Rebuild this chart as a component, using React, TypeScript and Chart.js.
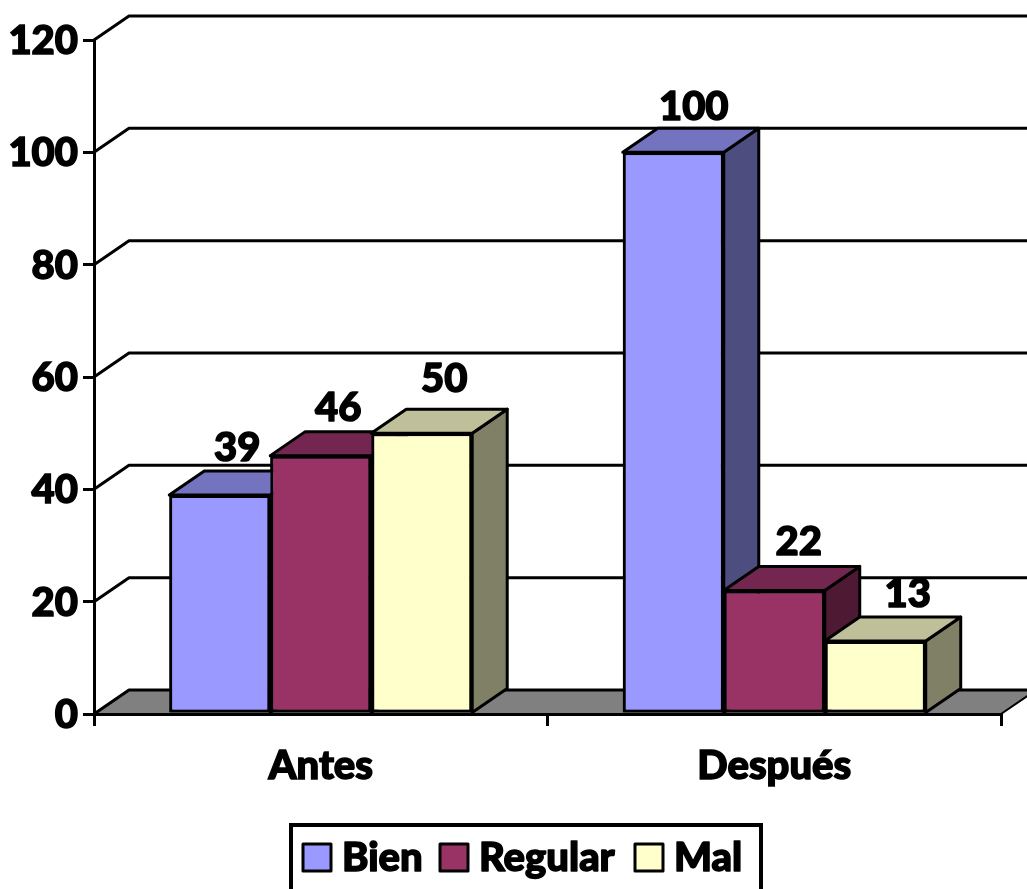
import React, { useEffect, useRef } from "react";
import { Chart, registerables } from "chart.js";

Chart.register(...registerables);

const categories = ["Antes", "Después"];
const seriesNames = ["Bien", "Regular", "Mal"];
const bien = [39, 100];
const regular = [46, 22];
const mal = [50, 13];
const frontColors = ["#9999FF", "#993366", "#FFFFCC"];
const topColors = ["#7373BF", "#732650", "#BFBF99"];
const sideColors = ["#4D4D80", "#4D1933", "#808066"];

const FAMILY = "Lato, Carlito, sans-serif";
const FONT = `900 40px ${FAMILY}`;
const DX = 35;
const DY = -24;
// fine placement of the value labels relative to the bar's top centre
const labelShift: Record<string, [number, number]> = {
  "0-0": [0, -23],
  "0-1": [3, -21],
  "1-0": [0, -24],
  "1-1": [7, -24],
  "2-0": [5, -30],
  "2-1": [15, -23],
};

function poly(ctx: CanvasRenderingContext2D, pts: number[][], fill: string, stroke = "#000", lw = 3) {
  ctx.beginPath();
  pts.forEach((p, i) => (i ? ctx.lineTo(p[0], p[1]) : ctx.moveTo(p[0], p[1])));
  ctx.closePath();
  ctx.fillStyle = fill;
  ctx.fill();
  ctx.lineJoin = "round";
  ctx.strokeStyle = stroke;
  ctx.lineWidth = lw;
  ctx.stroke();
}

function heavyText(ctx: CanvasRenderingContext2D, s: string, x: number, y: number, align: CanvasTextAlign = "center") {
  ctx.font = FONT;
  ctx.textAlign = align;
  ctx.textBaseline = "middle";
  ctx.fillStyle = "#000";
  ctx.strokeStyle = "#000";
  ctx.lineWidth = 1.5;
  ctx.lineJoin = "round";
  ctx.fillText(s, x, y);
  ctx.strokeText(s, x, y);
}

const walls3d = {
  id: "walls3d",
  beforeDatasetsDraw(chart: any) {
    const { ctx, chartArea: a, scales } = chart;
    const y = scales.y;
    ctx.save();
    const base = y.getPixelForValue(0);
    poly(
      ctx,
      [
        [a.left, base],
        [a.left + DX, base + DY],
        [a.right + DX, base + DY],
        [a.right, base],
      ],
      "#808080",
      "#000",
      2
    );
    ctx.strokeStyle = "#000";
    ctx.lineWidth = 3;
    y.ticks.forEach((t: any) => {
      const p = y.getPixelForValue(t.value);
      ctx.beginPath();
      ctx.moveTo(a.left, p);
      ctx.lineTo(a.left + DX, p + DY);
      ctx.lineTo(a.right + DX, p + DY);
      ctx.stroke();
    });
    ctx.restore();
  },
};

const bars3d = {
  id: "bars3d",
  afterDatasetsDraw(chart: any) {
    const { ctx } = chart;
    ctx.save();
    // Series are painted left to right so each front covers its left neighbour's side.
    chart.data.datasets.forEach((_: any, i: number) => {
      const meta = chart.getDatasetMeta(i);
      meta.data.forEach((bar: any) => {
        const x0 = bar.x - bar.width / 2;
        const x1 = bar.x + bar.width / 2;
        poly(
          ctx,
          [
            [x1, bar.y],
            [x1 + DX, bar.y + DY],
            [x1 + DX, bar.base + DY],
            [x1, bar.base],
          ],
          sideColors[i]
        );
        poly(
          ctx,
          [
            [x0, bar.y],
            [x0 + DX, bar.y + DY],
            [x1 + DX, bar.y + DY],
            [x1, bar.y],
          ],
          topColors[i]
        );
      });
      meta.controller.draw();
    });
    chart.data.datasets.forEach((ds: any, i: number) => {
      chart.getDatasetMeta(i).data.forEach((bar: any, j: number) => {
        const [sx, sy] = labelShift[`${i}-${j}`];
        heavyText(ctx, String(ds.data[j]), bar.x + DX / 2 + sx, bar.y + DY + sy);
      });
    });
    ctx.restore();
  },
};

const boxLegend = {
  id: "boxLegend",
  afterDraw(chart: any) {
    const { ctx } = chart;
    ctx.save();
    ctx.strokeStyle = "#000";
    ctx.lineWidth = 4;
    ctx.strokeRect(291, 825, 470, 80);
    const swatchX = [303, 440, 635];
    seriesNames.forEach((name, i) => {
      poly(ctx, [
        [swatchX[i], 844],
        [swatchX[i] + 28, 844],
        [swatchX[i] + 28, 871],
        [swatchX[i], 871],
      ], frontColors[i]);
      heavyText(ctx, name, swatchX[i] + 39, 858, "left");
    });
    ctx.restore();
  },
};

export default function App() {
  const ref = useRef<HTMLCanvasElement>(null);
  useEffect(() => {
    const tickFont = { family: FAMILY, size: 40, weight: "900" };
    const chart = new Chart(ref.current as HTMLCanvasElement, {
      type: "bar",
      data: {
        labels: categories,
        datasets: [bien, regular, mal].map((data, i) => ({
          label: seriesNames[i],
          data,
          backgroundColor: frontColors[i],
          borderColor: "#000",
          borderWidth: 3,
          borderSkipped: false,
          categoryPercentage: 0.668,
          barPercentage: 1,
        })),
      } as any,
      options: {
        responsive: false,
        animation: false,
        devicePixelRatio: 1,
        layout: { padding: { top: 40, right: 26, left: 0, bottom: 0 } },
        plugins: { legend: { display: false }, tooltip: { enabled: false }, title: { display: false } },
        scales: {
          x: {
            afterFit: (s: any) => {
              s.height = 175;
            },
            border: { color: "#000", width: 3 },
            grid: { display: true, drawOnChartArea: false, drawTicks: true, tickLength: 12, color: "#000", lineWidth: 3 },
            ticks: { color: "#000", font: tickFont, textStrokeColor: "#000", textStrokeWidth: 1.5, padding: 16, maxRotation: 0 },
          },
          y: {
            min: 0,
            max: 120,
            afterFit: (s: any) => {
              s.width = 94;
            },
            border: { color: "#000", width: 3 },
            grid: { display: true, drawOnChartArea: false, drawTicks: true, tickLength: 11, color: "#000", lineWidth: 3 },
            ticks: { stepSize: 20, color: "#000", font: tickFont, textStrokeColor: "#000", textStrokeWidth: 1.5, padding: 5, labelOffset: 1 },
          },
        },
      } as any,
      plugins: [walls3d, bars3d, boxLegend],
    });
    return () => chart.destroy();
  }, []);
  return (
    <canvas
      ref={ref}
      width={1027}
      height={889}
      style={{ position: "fixed", left: 0, top: 0, width: 1027, height: 889, display: "block", background: "#fff" }}
    />
  );
}
